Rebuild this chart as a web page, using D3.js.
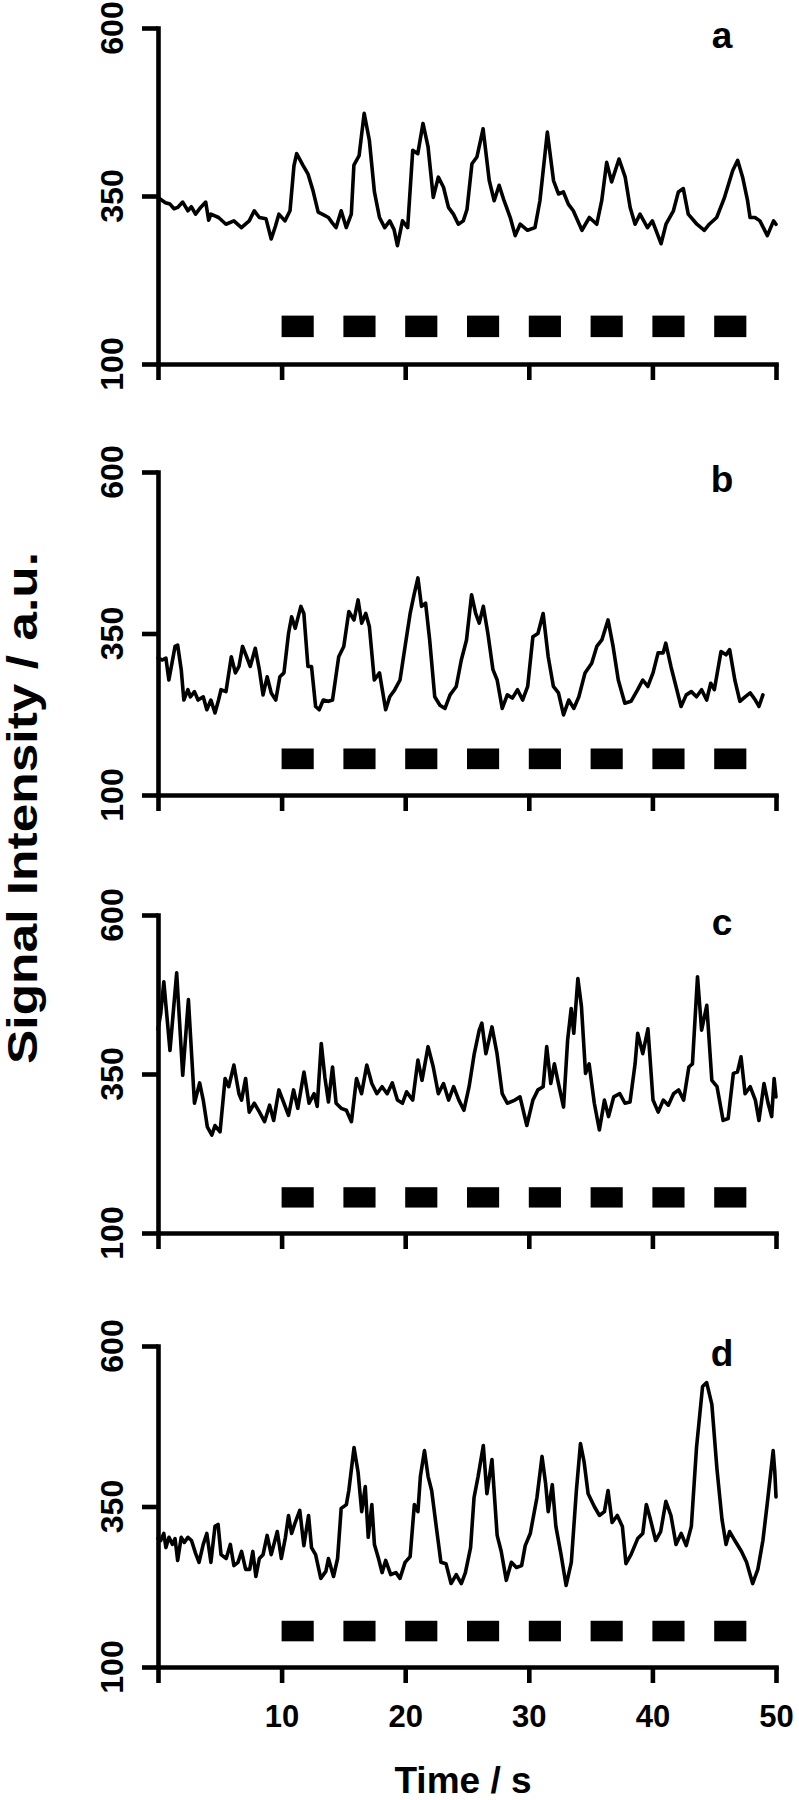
<!DOCTYPE html>
<html>
<head>
<meta charset="utf-8">
<script src="https://cdn.jsdelivr.net/npm/d3@7"></script>
<style>
  html, body { margin: 0; padding: 0; background: #fff; }
  svg { display: block; }
  text { font-family: "Liberation Sans", Arial, Helvetica, sans-serif; font-weight: bold; fill: #000; }
</style>
</head>
<body>
<svg id="chart" width="799" height="1800"></svg>
<script>
// ---------------- DATA ----------------
const panelLabels = ["a", "b", "c", "d"];
const yTicks = [100, 350, 600];
const xTicks = [0, 10, 20, 30, 40, 50];
const xTickLabels = ["", "10", "20", "30", "40", "50"];
const stimulusStarts = [10, 15, 20, 25, 30, 35, 40, 45];
const stimulusDuration = 2.6;
const stimulusLevel = [140, 172];
const xTitle = "Time / s";
const yTitle = "Signal Intensity / a.u.";

const timeA = [0,0.14,0.6,0.97,1.3,1.59,2.0,2.42,2.7,3.04,3.45,3.86,4.1,4.28,4.9,5.5,6.14,6.75,7.38,7.79,8.2,8.74,9.16,9.5,9.78,10.27,10.68,11.0,11.22,11.72,12.13,12.54,12.96,13.4,13.79,14.1,14.41,14.82,15.23,15.64,15.85,16.27,16.68,17.1,17.51,17.92,18.34,18.75,19.1,19.37,19.78,20.2,20.61,21.02,21.44,21.85,22.27,22.68,23.1,23.5,23.9,24.3,24.7,25.0,25.4,25.8,26.3,26.8,27.2,27.6,28.0,28.5,28.9,29.3,29.9,30.5,30.9,31.5,32.0,32.4,32.8,33.2,33.6,34.3,34.9,35.5,35.9,36.3,36.7,37.3,37.8,38.2,38.6,39.0,39.6,40.0,40.7,41.1,41.7,42.1,42.5,42.9,43.6,44.2,44.6,45.2,45.8,46.5,46.9,47.3,47.7,47.9,48.3,48.7,49.3,49.8,50.0];
const signalA = [348,346,340,338,331,333,341,328,334,323,333,341,314,323,318,308,313,303,313,328,318,316,286,305,323,313,328,395,413,396,383,358,326,322,318,310,303,328,303,323,396,410,473,433,356,318,303,313,300,276,313,303,418,413,458,423,348,378,363,333,323,308,313,330,398,408,450,373,343,366,343,318,291,308,299,303,343,445,373,353,356,338,328,299,318,308,343,400,371,405,378,333,308,323,303,313,279,308,328,356,361,323,308,299,308,318,346,388,403,378,343,318,318,313,291,313,308];

const timeB = [0,0.35,0.64,0.88,1.38,1.59,1.88,2.09,2.42,2.62,2.95,3.24,3.66,3.95,4.28,4.61,4.9,5.1,5.5,5.93,6.26,6.55,6.84,7.17,7.46,7.87,8.2,8.5,8.83,9.16,9.53,9.86,10.19,10.56,10.81,11.1,11.56,11.8,12.13,12.42,12.75,13.04,13.37,13.79,14.12,14.62,15.03,15.44,15.86,16.19,16.48,16.81,17.1,17.5,17.92,18.42,18.75,19.16,19.58,19.99,20.4,20.74,21.03,21.32,21.65,21.98,22.39,22.81,23.22,23.63,24.13,24.54,24.96,25.37,25.7,25.99,26.32,26.69,27.1,27.44,27.85,28.26,28.67,29.09,29.5,29.91,30.33,30.74,31.16,31.57,31.99,32.4,32.81,33.23,33.64,34.05,34.55,35.09,35.5,35.91,36.41,36.82,37.24,37.77,38.27,38.81,39.22,39.63,40.05,40.46,40.87,41.08,41.5,41.91,42.32,42.74,43.15,43.57,43.98,44.39,44.72,45.01,45.55,45.96,46.25,46.67,47.08,47.5,47.91,48.33,48.62,48.94];
const signalB = [312,309,312,278,330,332,294,247,263,252,260,247,252,232,247,227,247,263,260,314,289,299,330,314,299,327,294,255,283,258,247,283,289,350,376,358,392,381,299,299,237,232,247,245,247,314,330,384,371,402,366,381,361,278,289,232,252,263,278,330,381,412,436,392,397,340,252,239,234,255,268,309,340,410,381,366,392,350,294,278,234,255,250,263,247,268,345,350,381,314,268,258,224,247,234,252,289,304,330,340,371,330,278,242,245,263,278,268,289,320,320,335,299,268,237,255,260,252,263,247,273,263,322,317,325,278,245,252,258,247,237,255];

const timeC = [0,0.22,0.47,0.97,1.51,2.0,2.46,2.95,3.37,3.66,3.99,4.36,4.61,5.02,5.43,5.72,6.14,6.55,6.76,7.09,7.38,7.79,8.21,8.62,9.03,9.36,9.78,10.19,10.56,10.97,11.31,11.81,12.22,12.63,12.88,13.21,13.5,13.79,14.12,14.41,14.82,15.24,15.65,16.06,16.47,16.89,17.3,17.71,18.13,18.54,18.96,19.37,19.78,20.11,20.61,21.03,21.36,21.85,22.27,22.68,23.1,23.51,23.92,24.34,24.75,25.17,25.57,25.99,26.2,26.53,27.02,27.43,27.85,28.26,28.88,29.29,29.84,30.33,30.74,31.16,31.45,31.78,32.07,32.4,32.81,33.14,33.43,33.64,33.97,34.26,34.59,34.88,35.3,35.71,36.12,36.45,36.87,37.36,37.78,38.19,38.6,38.81,39.22,39.64,40.05,40.47,40.88,41.29,41.71,42.12,42.53,42.95,43.24,43.65,43.98,44.4,44.81,45.23,45.72,46.13,46.55,46.88,47.17,47.5,47.91,48.33,48.62,49.03,49.36,49.65,49.85,50.0];
const signalC = [420,445,495,387,509,348,467,304,336,309,267,254,269,259,343,330,364,319,309,343,290,304,290,275,301,277,325,304,285,325,296,353,304,319,299,398,345,306,361,304,296,293,275,343,319,364,335,319,330,319,336,309,304,322,309,372,340,393,361,319,335,309,330,309,293,330,380,419,430,382,424,382,319,304,309,314,269,309,325,330,393,335,366,335,298,403,453,414,500,456,351,366,304,262,309,283,314,319,304,306,366,414,382,421,309,290,309,301,319,325,309,361,366,503,419,458,340,330,277,280,351,353,377,319,330,309,277,335,304,283,343,314];

const timeD = [0,0.22,0.47,0.64,0.89,1.17,1.38,1.59,1.88,2.13,2.42,2.71,3.04,3.32,3.66,3.95,4.28,4.61,4.86,5.1,5.52,5.85,6.14,6.47,6.76,7.09,7.42,7.67,7.92,8.2,8.5,8.83,9.16,9.65,9.98,10.31,10.56,10.81,11.1,11.47,11.8,12.18,12.42,12.75,13.17,13.58,13.79,14.2,14.53,14.82,15.24,15.44,15.86,16.19,16.48,16.77,17.01,17.3,17.51,17.84,18.13,18.42,18.83,19.25,19.58,19.99,20.4,20.74,21.03,21.23,21.56,21.85,22.14,22.47,22.89,23.3,23.71,24.13,24.54,24.87,25.29,25.57,25.9,26.32,26.61,27.02,27.44,27.77,28.18,28.59,29.0,29.42,29.71,30.12,30.66,31.07,31.36,31.57,31.9,32.19,32.61,33.02,33.44,33.85,34.18,34.47,34.8,35.3,35.71,36.12,36.41,36.74,37.16,37.57,37.86,38.27,38.81,39.22,39.51,39.84,40.26,40.67,41.09,41.5,41.91,42.33,42.74,43.15,43.57,44.06,44.39,44.81,45.22,45.63,45.96,46.25,46.67,47.21,47.62,48.11,48.53,48.94,49.35,49.77,49.9,50.0];
const signalD = [300,297,308,286,302,291,300,266,302,294,302,297,277,263,291,308,263,319,322,275,269,291,258,263,280,252,252,280,241,269,275,305,275,311,269,302,336,308,325,344,289,336,286,275,238,249,269,241,269,347,353,375,442,403,342,381,302,353,291,269,247,266,244,247,238,263,272,353,342,397,437,397,375,325,263,261,230,244,230,247,286,364,397,445,370,423,305,280,235,263,255,258,289,308,364,428,386,342,384,319,275,227,263,375,448,420,370,350,336,342,375,325,336,319,261,275,300,308,353,330,297,311,358,336,291,308,289,319,442,537,543,509,409,330,291,311,297,280,263,230,252,297,364,437,405,365];

// ---------------- LAYOUT ----------------
const xLeft = 158, xRight = 776;
const panels = [
  { top: 28,   bottom: 364 },
  { top: 472,  bottom: 795 },
  { top: 915,  bottom: 1233 },
  { top: 1346, bottom: 1667 }
];
const seriesList = [
  { t: timeA, v: signalA },
  { t: timeB, v: signalB },
  { t: timeC, v: signalC },
  { t: timeD, v: signalD }
];

const svg = d3.select("#chart");
const x = d3.scaleLinear().domain([0, 50]).range([xLeft, xRight]);
const AXW = 4.6;

panels.forEach((p, i) => {
  const y = d3.scaleLinear().domain([100, 600]).range([p.bottom, p.top]);
  const g = svg.append("g");

  // stimulus bars
  g.selectAll("rect.stim")
    .data(stimulusStarts)
    .join("rect")
    .attr("class", "stim")
    .attr("x", d => x(d))
    .attr("width", d => x(d + stimulusDuration) - x(d))
    .attr("y", y(stimulusLevel[1]))
    .attr("height", y(stimulusLevel[0]) - y(stimulusLevel[1]))
    .attr("fill", "#000");

  // trace
  const s = seriesList[i];
  const pts = s.t.map((t, k) => [t, s.v[k]]);
  g.append("path")
    .datum(pts)
    .attr("fill", "none")
    .attr("stroke", "#000")
    .attr("stroke-width", 3.6)
    .attr("stroke-linejoin", "round")
    .attr("stroke-linecap", "round")
    .attr("d", d3.line().x(d => x(d[0])).y(d => y(d[1])));

  // y axis
  const ya = g.append("g")
    .attr("transform", `translate(${xLeft},0)`)
    .call(d3.axisLeft(y).tickValues(yTicks).tickSize(16).tickSizeOuter(0).tickFormat(""));
  // x axis
  const xa = g.append("g")
    .attr("transform", `translate(0,${p.bottom})`)
    .call(d3.axisBottom(x).tickValues(xTicks).tickSize(16).tickSizeOuter(0)
      .tickFormat((d, k) => i === panels.length - 1 ? xTickLabels[k] : ""));

  [ya, xa].forEach(a => {
    a.select(".domain").attr("stroke", "#000").attr("stroke-width", AXW).attr("stroke-linecap", "square");
    a.selectAll(".tick line").attr("stroke", "#000").attr("stroke-width", AXW);
  });
  xa.selectAll(".tick text")
    .attr("y", 0)
    .attr("dy", 0)
    .attr("transform", "translate(0,60)")
    .style("font-size", "31px")
    .style("font-family", '"Liberation Sans", Arial, sans-serif')
    .style("font-weight", "bold")
    .attr("fill", "#000");

  // y tick labels, rotated
  g.selectAll("text.ytl")
    .data(yTicks)
    .join("text")
    .attr("class", "ytl")
    .attr("transform", d => `translate(123,${y(d)}) rotate(-90)`)
    .attr("text-anchor", "middle")
    .style("font-size", "32px")
    .text(d => d);

  // panel letter
  g.append("text")
    .attr("x", 722)
    .attr("y", p.top + 20)
    .attr("text-anchor", "middle")
    .style("font-size", "37px")
    .text(panelLabels[i]);
});

// axis titles
svg.append("text")
  .attr("x", 463)
  .attr("y", 1793)
  .attr("text-anchor", "middle")
  .style("font-size", "37px")
  .text(xTitle);

svg.append("text")
  .attr("transform", "translate(37,808) rotate(-90)")
  .attr("text-anchor", "middle")
  .attr("textLength", 512)
  .attr("lengthAdjust", "spacingAndGlyphs")
  .style("font-size", "42px")
  .text(yTitle);
</script>
</body>
</html>
